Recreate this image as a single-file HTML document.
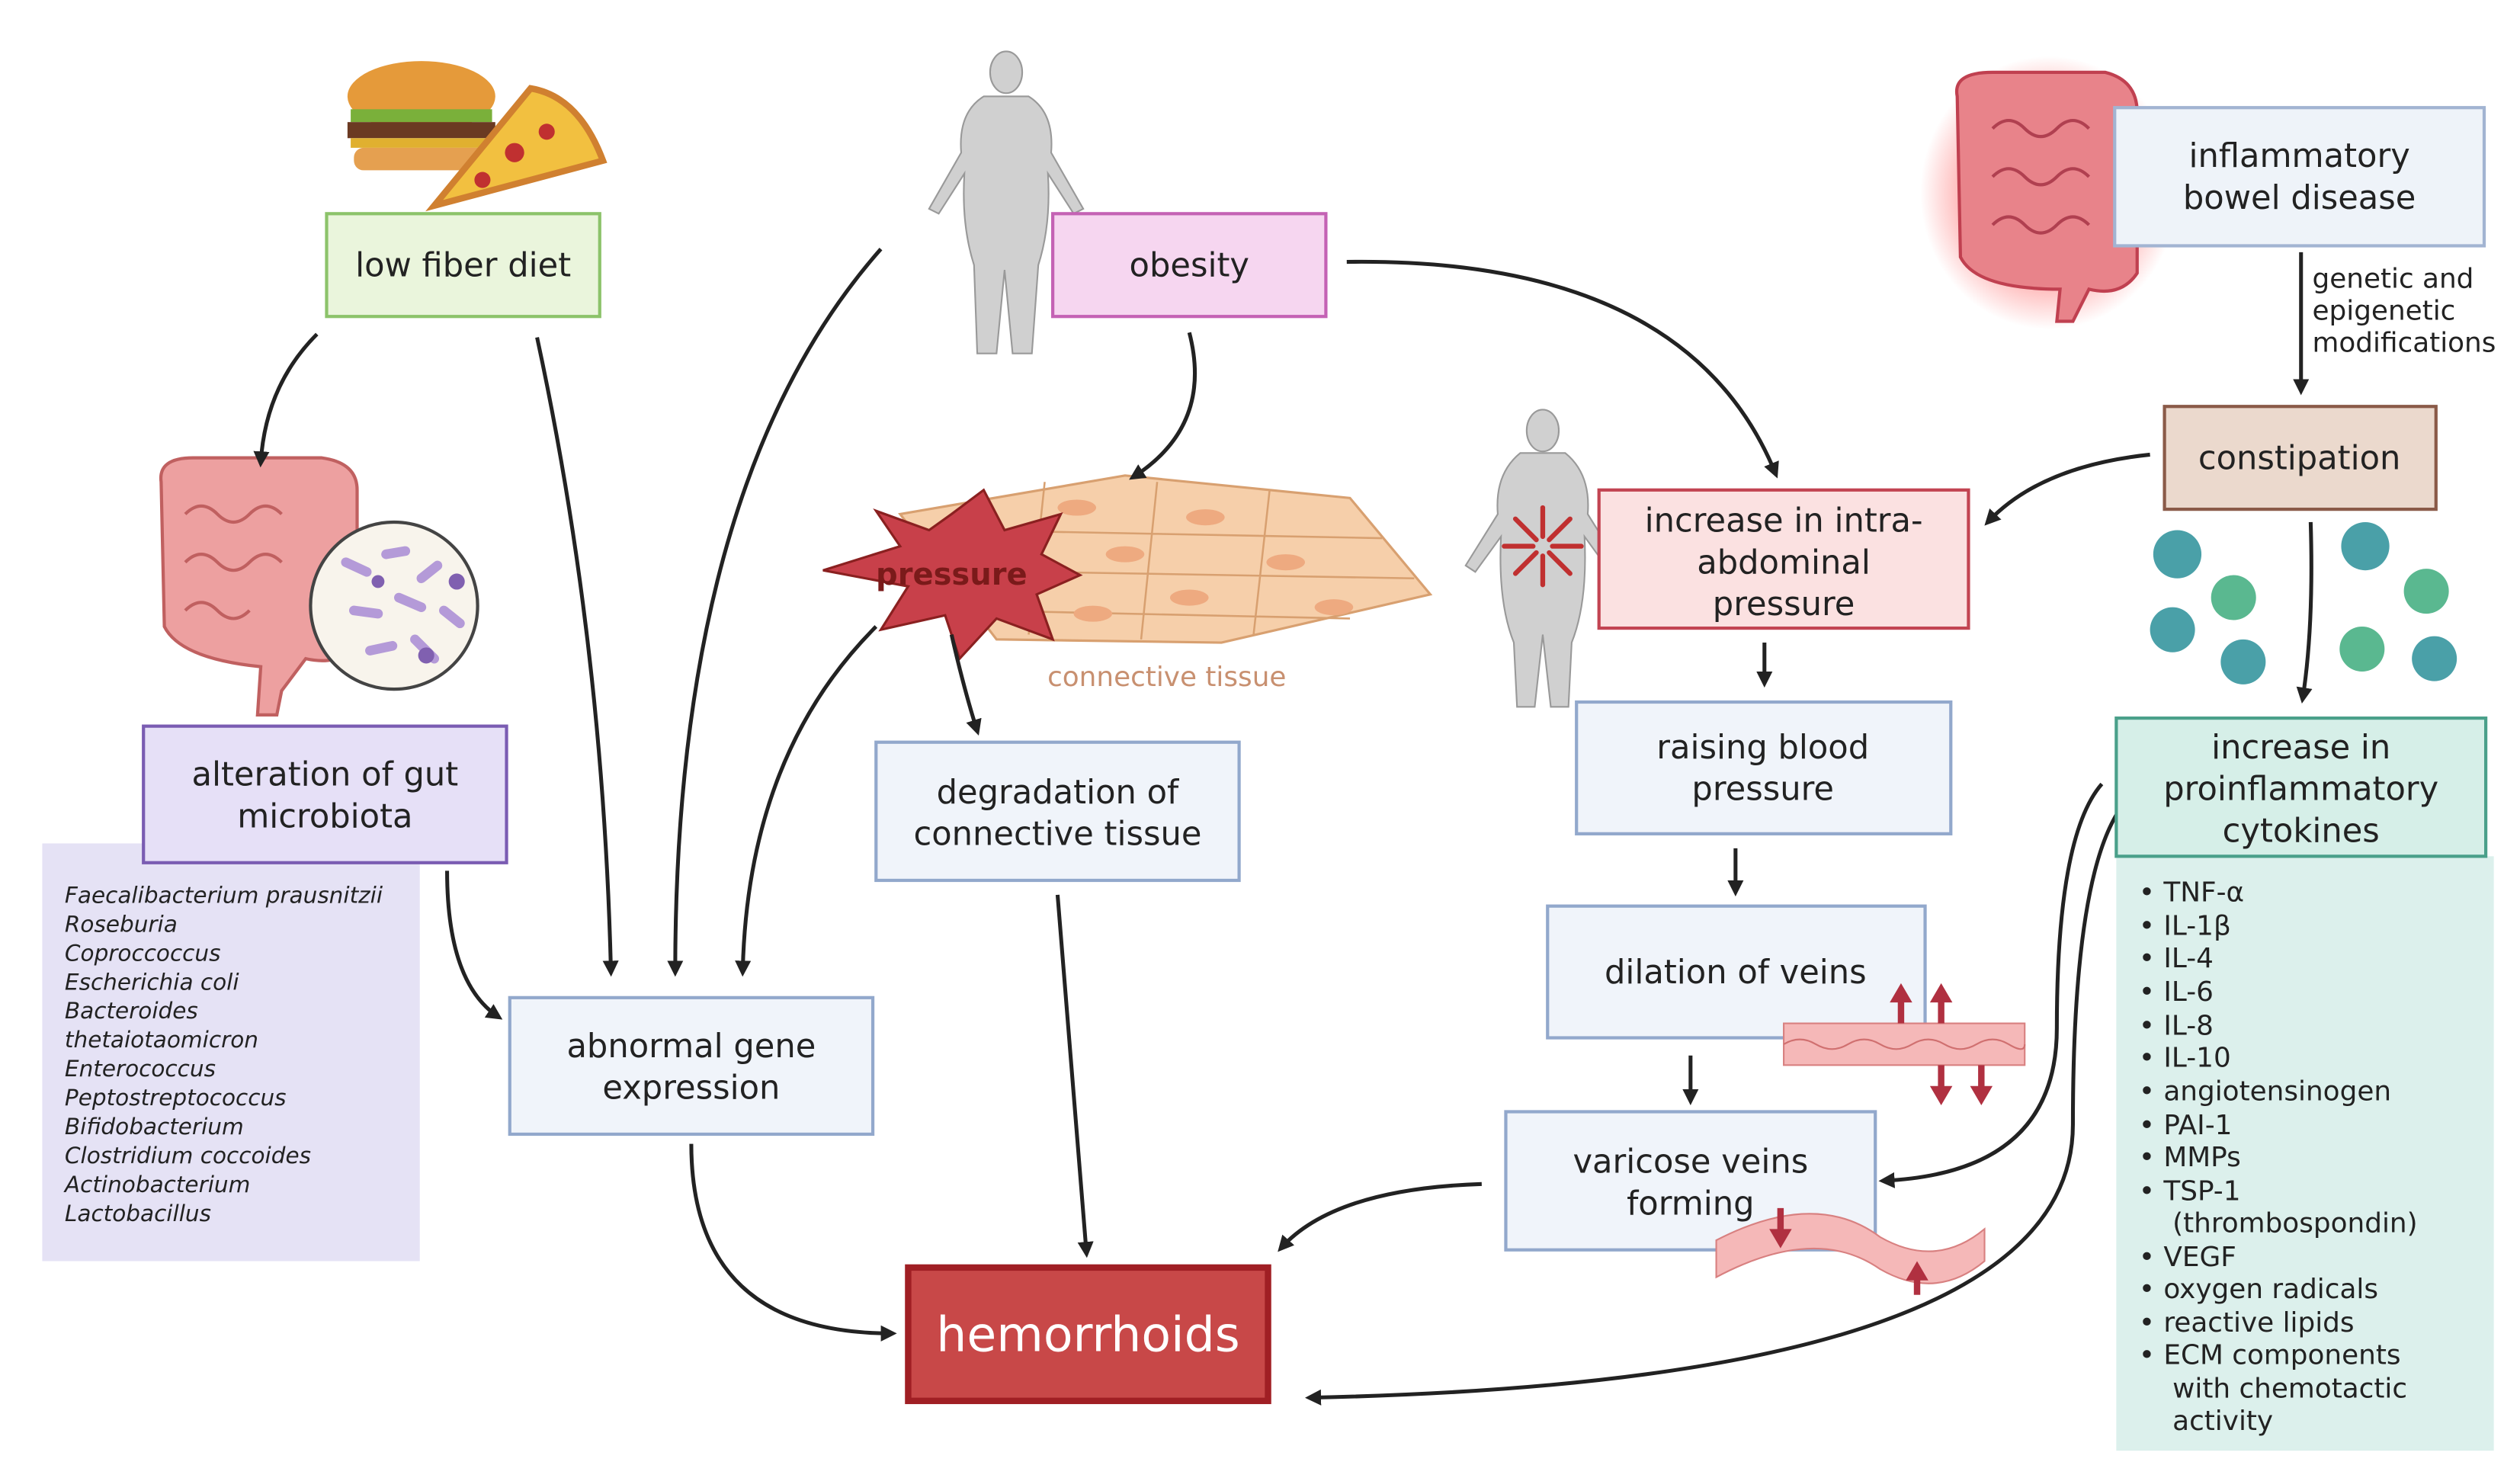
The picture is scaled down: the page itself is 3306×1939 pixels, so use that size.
<!DOCTYPE html>
<html><head><meta charset="utf-8">
<style>
html,body{margin:0;padding:0;background:#fff;}
svg{display:block;}
text{font-family:"DejaVu Sans","Liberation Sans",sans-serif;fill:#222;}
</style></head>
<body>
<svg width="3306" height="1939" viewBox="0 0 1568 920" xmlns="http://www.w3.org/2000/svg">
<defs>
<marker id="ah" markerWidth="10" markerHeight="10" refX="7" refY="5" orient="auto" markerUnits="userSpaceOnUse">
<path d="M0,0 L10,5 L0,10 z" fill="#222"/>
</marker>
<radialGradient id="glow" cx="50%" cy="50%" r="50%">
<stop offset="60%" stop-color="#ff5050" stop-opacity="0.5"/>
<stop offset="100%" stop-color="#ff5050" stop-opacity="0"/>
</radialGradient>
</defs>
<rect width="1568" height="920" fill="#fff"/>

<rect x="26" y="525" width="235" height="260" fill="#e5e2f5"/>
<rect x="1317" y="533" width="235" height="370" fill="#dcf0ec"/>

<!-- food -->
<ellipse cx="262" cy="60" rx="46" ry="22" fill="#e59a3a"/>
<rect x="218" y="68" width="88" height="8" fill="#7ab03a"/>
<rect x="216" y="76" width="92" height="10" fill="#6b3a22"/>
<rect x="218" y="86" width="88" height="6" fill="#e0b030"/>
<rect x="220" y="92" width="84" height="14" rx="6" fill="#e5a050"/>
<path d="M270 128 L330 55 Q360 60 375 100 Z" fill="#f2c040" stroke="#d08030" stroke-width="4"/>
<circle cx="320" cy="95" r="6" fill="#c03030"/><circle cx="340" cy="82" r="5" fill="#c03030"/><circle cx="300" cy="112" r="5" fill="#c03030"/>

<!-- obesity person -->
<g fill="#d0d0d0" stroke="#999" stroke-width="1">
<ellipse cx="626" cy="45" rx="10" ry="13"/>
<path d="M612 60 Q596 70 598 95 L578 130 L584 133 L600 108 Q598 140 606 165 L608 220 L620 220 L625 168 L630 220 L642 220 L646 165 Q654 140 652 108 L668 133 L674 130 L654 95 Q656 70 640 60 Z"/>
</g>
<!-- second person -->
<g fill="#d0d0d0" stroke="#999" stroke-width="1">
<ellipse cx="960" cy="268" rx="10" ry="13"/>
<path d="M946 282 Q930 295 932 320 L912 352 L918 356 L934 334 Q932 375 942 400 L944 440 L955 440 L960 395 L965 440 L976 440 L978 400 Q988 375 986 334 L1002 356 L1008 352 L988 320 Q990 295 974 282 Z"/>
</g>
<g stroke="#c03030" stroke-width="3" fill="none" stroke-linecap="round">
<path d="M960 334 L960 316"/><path d="M960 346 L960 364"/><path d="M954 340 L936 340"/><path d="M966 340 L984 340"/>
<path d="M956 336 L943 323"/><path d="M964 336 L977 323"/><path d="M956 344 L943 357"/><path d="M964 344 L977 357"/>
</g>

<!-- intestine IBD -->
<ellipse cx="1275" cy="120" rx="80" ry="85" fill="url(#glow)"/>
<path d="M1218 60 Q1215 45 1240 45 L1310 45 Q1330 50 1330 70 L1330 170 Q1320 185 1300 180 L1290 200 L1280 200 L1282 180 Q1230 180 1220 160 Z" fill="#e8838a" stroke="#c04050" stroke-width="2"/>
<path d="M1240 80 q10 -10 20 0 q10 10 20 0 q10 -10 20 0 M1240 110 q10 -10 20 0 q10 10 20 0 q10 -10 20 0 M1240 140 q10 -10 20 0 q10 10 20 0 q10 -10 20 0" stroke="#b04050" fill="none" stroke-width="2"/>

<!-- intestine gut -->
<path d="M100 300 Q98 285 120 285 L200 285 Q222 288 222 305 L222 400 Q212 415 190 410 L175 430 L172 445 L160 445 L162 415 Q112 410 102 390 Z" fill="#eda0a0" stroke="#c06060" stroke-width="2"/>
<path d="M115 320 q10 -10 20 0 q10 10 20 0 q10 -10 20 0 M115 350 q10 -10 20 0 q10 10 20 0 q10 -10 20 0 M115 380 q10 -10 20 0 q10 10 20 0" stroke="#c06060" fill="none" stroke-width="2"/>
<circle cx="245" cy="377" r="52" fill="#f8f4ec" stroke="#444" stroke-width="2"/>
<g stroke="#b49ad8" stroke-width="6" stroke-linecap="round">
<path d="M215 350 L228 356"/><path d="M240 345 L252 343"/><path d="M262 360 L272 352"/><path d="M220 380 L235 382"/><path d="M248 372 L262 378"/><path d="M230 405 L244 402"/><path d="M258 398 L270 410"/><path d="M276 380 L286 388"/>
</g>
<g fill="#8060b0"><circle cx="284" cy="362" r="5"/><circle cx="265" cy="408" r="5"/><circle cx="235" cy="362" r="4"/></g>

<!-- connective tissue -->
<g fill="#f6cfaa" stroke="#d8a070" stroke-width="1.5">
<path d="M560 320 L700 296 L840 310 L890 370 L760 400 L620 398 Z"/>
</g>
<g stroke="#d8a070" fill="none" stroke-width="1.2">
<path d="M600 330 L860 335 M590 355 L880 360 M610 380 L840 385 M650 300 L640 395 M720 300 L710 398 M790 305 L780 395"/>
</g>
<g fill="#eeaa80"><ellipse cx="670" cy="316" rx="12" ry="5"/><ellipse cx="750" cy="322" rx="12" ry="5"/><ellipse cx="700" cy="345" rx="12" ry="5"/><ellipse cx="800" cy="350" rx="12" ry="5"/><ellipse cx="740" cy="372" rx="12" ry="5"/><ellipse cx="830" cy="378" rx="12" ry="5"/><ellipse cx="680" cy="382" rx="12" ry="5"/></g>
<text x="726" y="427" font-size="17" text-anchor="middle" style="fill:#c89070">connective tissue</text>
<polygon points="592,320 612,305 625,330 660,320 648,345 672,358 645,370 655,398 620,385 597,410 588,383 548,392 565,365 512,355 560,340 545,318 578,330" fill="#c8404a" stroke="#8a2020" stroke-width="1.5"/>
<text x="592" y="364" font-size="19" font-weight="bold" text-anchor="middle" style="fill:#7a1a1a">pressure</text>

<!-- cytokine blobs -->
<g>
<circle cx="1355" cy="345" r="15" fill="#4aa0a8"/><circle cx="1472" cy="340" r="15" fill="#4aa0a8"/>
<circle cx="1390" cy="372" r="14" fill="#5ab890"/><circle cx="1510" cy="368" r="14" fill="#5ab890"/>
<circle cx="1352" cy="392" r="14" fill="#4aa0a8"/><circle cx="1470" cy="404" r="14" fill="#5ab890"/>
<circle cx="1396" cy="412" r="14" fill="#4aa0a8"/><circle cx="1515" cy="410" r="14" fill="#4aa0a8"/>
</g>

<!-- arrows -->
<g stroke="#222" stroke-width="2.4" fill="none" marker-end="url(#ah)">
<path d="M197 208 Q165 240 162 288"/>
<path d="M334 210 Q375 400 380 605"/>
<path d="M548 155 Q420 300 420 605"/>
<path d="M545 390 Q465 470 462 605"/>
<path d="M740 207 Q755 265 705 297"/>
<path d="M838 163 Q1050 160 1105 295"/>
<path d="M592 395 Q600 430 608 455"/>
<path d="M658 557 L676 780"/>
<path d="M430 712 Q430 830 555 830"/>
<path d="M278 542 Q278 612 310 633"/>
<path d="M1432 157 L1432 243"/>
<path d="M1338 283 Q1270 290 1237 325"/>
<path d="M1438 325 Q1440 390 1433 435"/>
<path d="M1098 400 L1098 425"/>
<path d="M1080 528 L1080 555"/>
<path d="M1052 657 L1052 685"/>
<path d="M922 737 Q830 740 797 777"/>
<path d="M1308 488 Q1280 520 1280 640 Q1280 730 1172 735"/>
<path d="M1322 500 Q1290 540 1290 700 Q1290 860 815 870"/>
</g>
<text font-size="17"><tspan x="1439" y="179">genetic and</tspan><tspan x="1439" y="199">epigenetic</tspan><tspan x="1439" y="219">modifications</tspan></text>

<!-- boxes -->
<g stroke-width="2">
<rect x="203" y="133" width="170" height="64" fill="#eaf5dc" stroke="#8cc36a"/>
<rect x="655" y="133" width="170" height="64" fill="#f6d6f0" stroke="#c462b4"/>
<rect x="1316" y="67" width="230" height="86" fill="#eef3f9" stroke="#a2b4d2"/>
<rect x="1347" y="253" width="169" height="64" fill="#ebd9cd" stroke="#8a5a48"/>
<rect x="995" y="305" width="230" height="86" fill="#fbe1e1" stroke="#c24452"/>
<rect x="981" y="437" width="233" height="82" fill="#f0f4fa" stroke="#92a8cc"/>
<rect x="963" y="564" width="235" height="82" fill="#f0f4fa" stroke="#92a8cc"/>
<rect x="937" y="692" width="230" height="86" fill="#f0f4fa" stroke="#92a8cc"/>
<rect x="1317" y="447" width="230" height="86" fill="#d6efe8" stroke="#4aa08a"/>
<rect x="89" y="452" width="226" height="85" fill="#e6e0f7" stroke="#7a5cb2"/>
<rect x="317" y="621" width="226" height="85" fill="#f0f4fa" stroke="#92a8cc"/>
<rect x="545" y="462" width="226" height="86" fill="#f0f4fa" stroke="#92a8cc"/>
<rect x="565" y="789" width="224" height="83" fill="#c84848" stroke="#a01f24" stroke-width="4"/>
</g>

<!-- veins (on top of boxes) -->
<rect x="1110" y="637" width="150" height="26" fill="#f5b8b8" stroke="#d88080"/>
<path d="M1110 650 q10 -6 20 0 q10 6 20 0 q10 -6 20 0 q10 6 20 0 q10 -6 20 0 q10 6 20 0 q10 -6 20 0 q10 6 10 0" stroke="#d07070" fill="none"/>
<g fill="#b03040" stroke="#b03040" stroke-width="4">
<path d="M1183 637 L1183 622" /><polygon points="1176,624 1190,624 1183,612" stroke="none"/>
<path d="M1208 637 L1208 622" /><polygon points="1201,624 1215,624 1208,612" stroke="none"/>
<path d="M1208 663 L1208 678" /><polygon points="1201,676 1215,676 1208,688" stroke="none"/>
<path d="M1233 663 L1233 678" /><polygon points="1226,676 1240,676 1233,688" stroke="none"/>
</g>
<path d="M1068 772 Q1130 740 1170 770 Q1205 790 1235 765 L1235 785 Q1205 810 1170 790 Q1130 762 1068 795 Z" fill="#f5b8b8" stroke="#d88080"/>
<g fill="#b03040" stroke="#b03040" stroke-width="4">
<path d="M1108 752 L1108 767"/><polygon points="1101,765 1115,765 1108,777" stroke="none"/>
<path d="M1193 806 L1193 795"/><polygon points="1186,797 1200,797 1193,785" stroke="none"/>
</g>

<g font-size="20.5" text-anchor="middle">
<text x="288" y="172">low fiber diet</text>
<text x="740" y="172">obesity</text>
<text x="1431" y="104">inflammatory</text><text x="1431" y="130">bowel disease</text>
<text x="1431" y="292">constipation</text>
<text x="1110" y="331">increase in intra-</text><text x="1110" y="357">abdominal</text><text x="1110" y="383">pressure</text>
<text x="1097" y="472">raising blood</text><text x="1097" y="498">pressure</text>
<text x="1080" y="612">dilation of veins</text>
<text x="1052" y="730">varicose veins</text><text x="1052" y="756">forming</text>
<text x="1432" y="472">increase in</text><text x="1432" y="498">proinflammatory</text><text x="1432" y="524">cytokines</text>
<text x="202" y="489">alteration of gut</text><text x="202" y="515">microbiota</text>
<text x="430" y="658">abnormal gene</text><text x="430" y="684">expression</text>
<text x="658" y="500">degradation of</text><text x="658" y="526">connective tissue</text>
<text x="677" y="841" font-size="30" style="fill:#fff">hemorrhoids</text>
</g>

<g font-size="14" font-style="italic">
<text x="40" y="562">Faecalibacterium prausnitzii</text>
<text x="40" y="580">Roseburia</text>
<text x="40" y="598">Coproccoccus</text>
<text x="40" y="616">Escherichia coli</text>
<text x="40" y="634">Bacteroides</text>
<text x="40" y="652">thetaiotaomicron</text>
<text x="40" y="670">Enterococcus</text>
<text x="40" y="688">Peptostreptococcus</text>
<text x="40" y="706">Bifidobacterium</text>
<text x="40" y="724">Clostridium coccoides</text>
<text x="40" y="742">Actinobacterium</text>
<text x="40" y="760">Lactobacillus</text>
</g>

<g font-size="17">
<text x="1331" y="561">•  TNF-α</text>
<text x="1331" y="582">•  IL-1β</text>
<text x="1331" y="602">•  IL-4</text>
<text x="1331" y="623">•  IL-6</text>
<text x="1331" y="644">•  IL-8</text>
<text x="1331" y="664">•  IL-10</text>
<text x="1331" y="685">•  angiotensinogen</text>
<text x="1331" y="706">•  PAI-1</text>
<text x="1331" y="726">•  MMPs</text>
<text x="1331" y="747">•  TSP-1</text>
<text x="1352" y="767">(thrombospondin)</text>
<text x="1331" y="788">•  VEGF</text>
<text x="1331" y="808">•  oxygen radicals</text>
<text x="1331" y="829">•  reactive lipids</text>
<text x="1331" y="849">•  ECM components</text>
<text x="1352" y="870">with chemotactic</text>
<text x="1352" y="890">activity</text>
</g>
</svg>
</body></html>
